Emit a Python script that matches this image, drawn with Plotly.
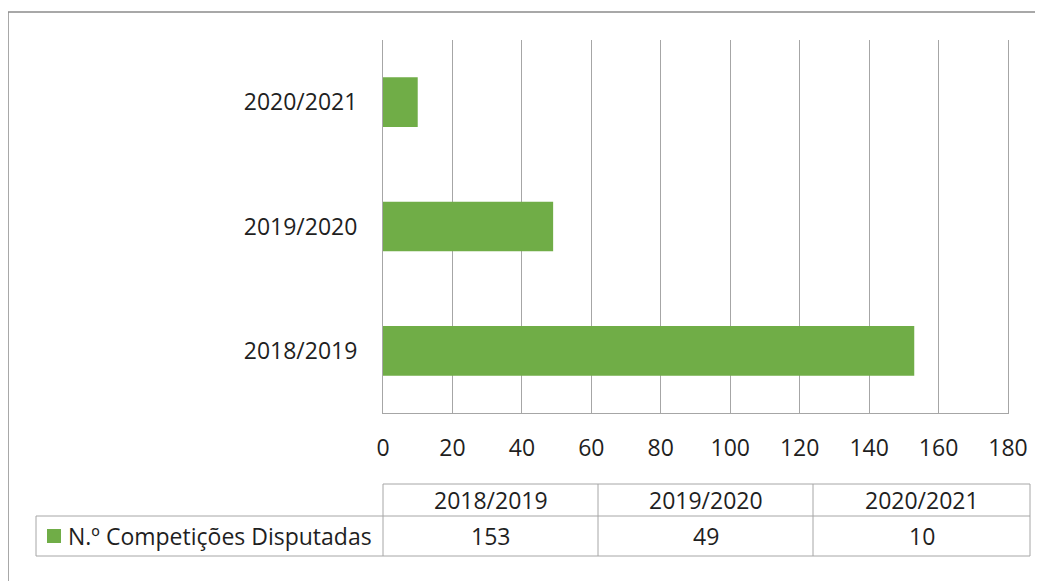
import plotly.graph_objects as go

seasons = ["2018/2019", "2019/2020", "2020/2021"]
competitions = [153, 49, 10]
series_name = "N.º Competições Disputadas"

GREEN = "#70AD47"
GRID = "#a6a6a6"
TEXT = "#1f1f1f"
FONT = "Open Sans"

# the page body keeps its default 8px margin, so work in window pixels
# and shift everything by that offset
OFF = 8
W, H = 1043 - OFF, 581 - OFF
L, R, T, B = 383 - OFF, 1008 - OFF, 40 - OFF, 413 - OFF


def px_x(p):
    return (p - OFF - L) / (R - L)


def px_y(p):
    return (B - (p - OFF)) / (B - T)


fig = go.Figure()
fig.add_trace(go.Bar(
    y=seasons, x=competitions, orientation="h",
    marker=dict(color=GREEN, line_width=0),
    name=series_name, showlegend=False,
))

shapes = []
# outer chart border (right/bottom sides fall outside the picture)
shapes.append(dict(type="rect", xref="paper", yref="paper",
                   x0=px_x(8), x1=px_x(1070), y0=px_y(610), y1=px_y(12),
                   line=dict(color="#8c8c8c", width=1.5), layer="below"))

# data table grid
col_edges = [383, 598, 813, 1030]
row_top, row_mid, row_bot = 484, 516, 556
leg_left = 36


def hline(y, x0, x1):
    shapes.append(dict(type="line", xref="paper", yref="paper",
                       x0=px_x(x0), x1=px_x(x1), y0=px_y(y), y1=px_y(y),
                       line=dict(color=GRID, width=1)))


def vline(x, y0, y1):
    shapes.append(dict(type="line", xref="paper", yref="paper",
                       x0=px_x(x), x1=px_x(x), y0=px_y(y0), y1=px_y(y1),
                       line=dict(color=GRID, width=1)))


hline(row_top, col_edges[0], col_edges[-1])
hline(row_mid, leg_left, col_edges[-1])
hline(row_bot, leg_left, col_edges[-1])
vline(leg_left, row_mid, row_bot)
for cx in col_edges:
    vline(cx, row_top, row_bot)

# legend key square
shapes.append(dict(type="rect", xref="paper", yref="paper",
                   x0=px_x(47), x1=px_x(61), y0=px_y(543), y1=px_y(529),
                   fillcolor=GREEN, line_width=0))

annotations = []
for i, (s, v) in enumerate(zip(seasons, competitions)):
    cx = (col_edges[i] + col_edges[i + 1]) / 2
    annotations.append(dict(x=px_x(cx), y=px_y((row_top + row_mid) / 2),
                            xref="paper", yref="paper", text=s,
                            showarrow=False, xanchor="center", yanchor="middle",
                            font=dict(size=23, color=TEXT, family=FONT)))
    annotations.append(dict(x=px_x(cx), y=px_y((row_mid + row_bot) / 2),
                            xref="paper", yref="paper", text=str(v),
                            showarrow=False, xanchor="center", yanchor="middle",
                            font=dict(size=23, color=TEXT, family=FONT)))
annotations.append(dict(x=px_x(66), y=px_y((row_mid + row_bot) / 2),
                        xref="paper", yref="paper", text=series_name,
                        showarrow=False, xanchor="left", yanchor="middle",
                        font=dict(size=23, color=TEXT, family=FONT)))

fig.update_layout(
    width=W, height=H,
    margin=dict(l=L, r=W - R, t=T, b=H - B),
    paper_bgcolor="white", plot_bgcolor="white",
    font=dict(family=FONT, size=23, color=TEXT),
    bargap=0.6,
    shapes=shapes,
    annotations=annotations,
    xaxis=dict(range=[0, 180], dtick=20, showgrid=True, gridcolor=GRID,
               gridwidth=1, zeroline=False, showline=True, linecolor=GRID,
               linewidth=1, ticks="outside", ticklen=14,
               tickcolor="rgba(0,0,0,0)", tickfont=dict(size=23)),
    yaxis=dict(categoryorder="array", categoryarray=seasons,
               showgrid=False, zeroline=False, showline=True, mirror=True,
               linecolor=GRID, linewidth=1,
               ticks="outside", ticklen=20, tickcolor="rgba(0,0,0,0)",
               tickfont=dict(size=23)),
)

fig.write_html("out.html")
